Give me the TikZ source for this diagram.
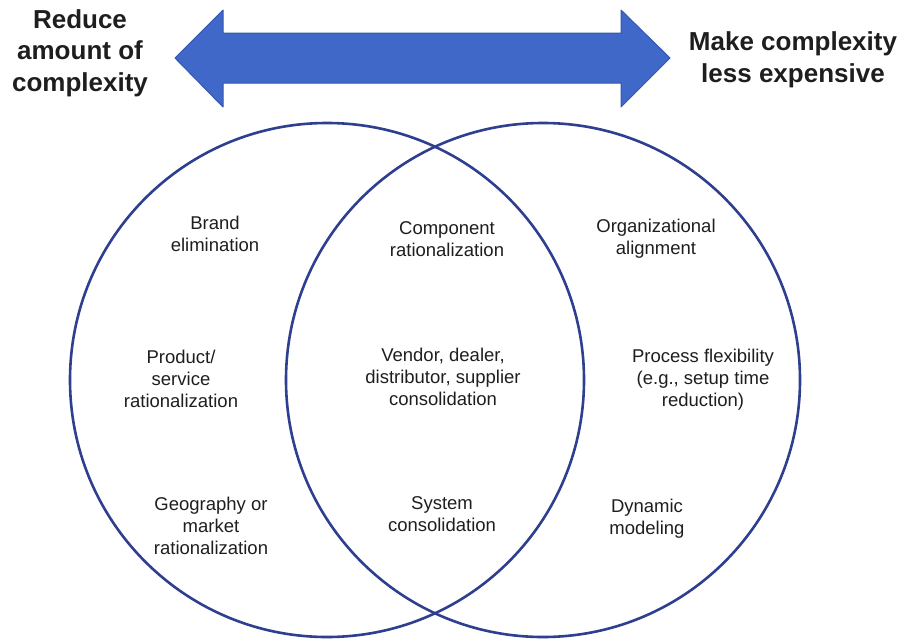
\documentclass[tikz,border=0pt]{standalone}
\usepackage{fontspec}
\setmainfont{Liberation Sans}
\usepackage{xcolor}
\usepackage{tikz}

\definecolor{ringblue}{HTML}{2E3F8F}
\definecolor{arrowblue}{HTML}{4068C8}
\definecolor{arrowedge}{HTML}{3556AE}
\definecolor{inktext}{HTML}{1E1E1E}

\tikzset{
	ring/.style={circle, draw=ringblue, line width=2.6pt, minimum size=514pt, inner sep=0pt},
	item/.style={align=center, text=inktext, font=\fontsize{18.5}{21.8}\selectfont, inner sep=1pt},
	heading/.style={align=center, text=inktext, font=\fontsize{26}{31.5}\selectfont\bfseries, inner sep=1pt}
}

\begin{document}
\begin{tikzpicture}[x=1pt, y=-1pt]
			\useasboundingbox (0,0) rectangle (901,638);
			% the two sets
			\node[ring] (reduce) at (327,380) {};
			\node[ring] (cheaper) at (543,380) {};
			% double arrow on top
			\draw[arrowedge, fill=arrowblue, line width=1pt, line join=round]
				(175,58) -- (223,10) -- (223,33) -- (621,33) -- (621,10) -- (670,58)
				-- (621,107) -- (621,83) -- (223,83) -- (223,107) -- cycle;
			\node[heading] (left) at (80,53) {Reduce\\amount of\\complexity};
			\node[heading] (right) at (793,60) {Make complexity\\less expensive};
			% left only
			\node[item] (brand) at (215,234) {Brand\\elimination};
			\node[item] (product) at (181,379) {Product/\\service\\rationalization};
			\node[item] (geo) at (211,526) {Geography or\\market\\rationalization};
			% both
			\node[item] (component) at (447,239) {Component\\rationalization};
			\node[item] (vendor) at (443,377) {Vendor, dealer,\\distributor, supplier\\consolidation};
			\node[item] (system) at (442,514) {System\\consolidation};
			% right only
			\node[item] (org) at (656,239) {Organizational\\alignment};
			\node[item] (process) at (703,380) {Process flexibility\\(e.g., setup time\\reduction)};
			\node[item] (dynamic) at (647,519) {Dynamic\\modeling};
\end{tikzpicture}
\end{document}
